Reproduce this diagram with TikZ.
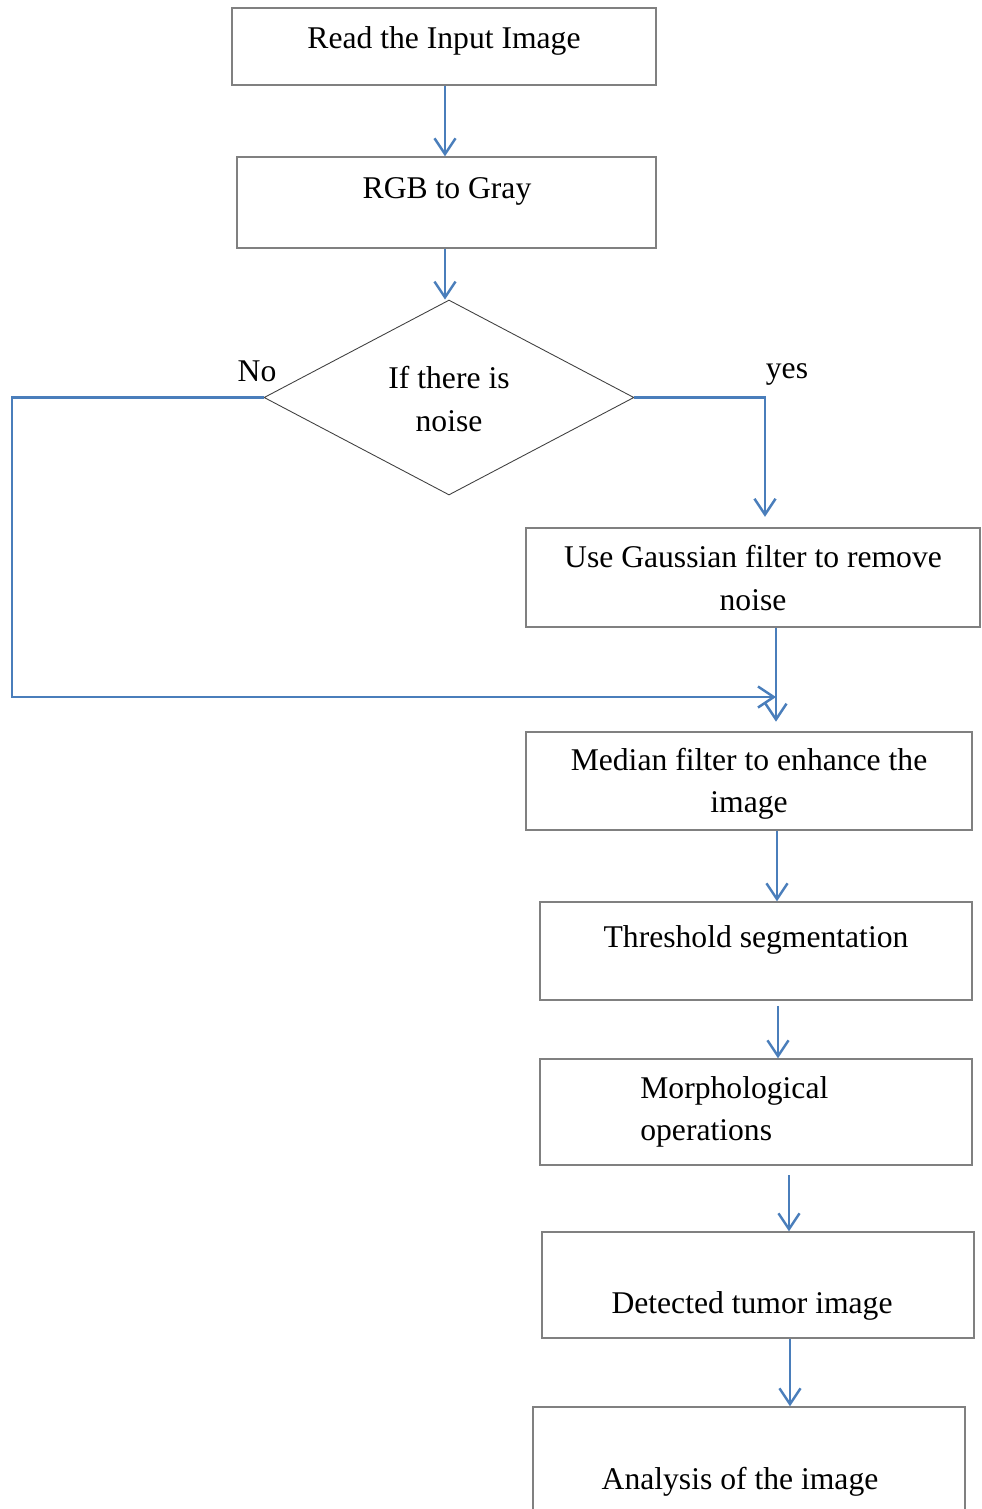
\documentclass[tikz,border=0pt]{standalone}
\usepackage{fontspec}
\setmainfont{Liberation Serif}
\usetikzlibrary{arrows.meta, shapes.geometric, positioning, calc}
\definecolor{flowblue}{RGB}{74,126,187}
\definecolor{boxgray}{RGB}{128,128,128}

\begin{document}
\begin{tikzpicture}[x=0.02cm, y=-0.02cm,
    box/.style={draw=boxgray, line width=0.8pt, inner sep=0pt},
    decision/.style={diamond, draw=black!75, line width=0.5pt, inner sep=0pt,
      minimum width=7.4cm, minimum height=3.9cm},
    lbl/.style={font=\fontsize{18}{24}\selectfont, align=center, inner sep=0pt},
    arr/.style={draw=flowblue, line width=1.4pt, -{Straight Barb[length=9pt, width=12pt]}}]
  \useasboundingbox (0,0) rectangle (982,1509);

  % boxes
  \node[box, minimum width=8.48cm, minimum height=1.54cm] (read) at (444,46.5) {};
  \node[box, minimum width=8.38cm, minimum height=1.82cm] (gray) at (446.5,202.5) {};
  \node[decision] (noise) at (449,397.5) {};
  \node[box, minimum width=9.08cm, minimum height=1.98cm] (gauss) at (753,577.5) {};
  \node[box, minimum width=8.92cm, minimum height=1.96cm] (median) at (749,781) {};
  \node[box, minimum width=8.64cm, minimum height=1.96cm] (thresh) at (756,951) {};
  \node[box, minimum width=8.64cm, minimum height=2.12cm] (morph) at (756,1112) {};
  \node[box, minimum width=8.64cm, minimum height=2.12cm] (tumor) at (758,1285) {};
  \node[box, minimum width=8.64cm, minimum height=3.06cm] (anal) at (749,1483.5) {};

  % texts
  \node[lbl] (readtxt) at (444,40.5) {Read the Input Image};
  \node[lbl] (graytxt) at (447,191.5) {RGB to Gray};
  \node[lbl] (noisetxt) at (449,399) {If there is\\noise};
  \node[lbl] (gausstxt) at (753,578) {Use Gaussian filter to remove\\noise};
  \node[lbl] (mediantxt) at (749,784) {Median filter to enhance the\\image};
  \node[lbl] (threshtxt) at (756,939.5) {Threshold segmentation};
  \node[lbl, align=left, anchor=west] (morphtxt) at (640,1111.5) {Morphological\\operations};
  \node[lbl] (tumortxt) at (752,1306) {Detected tumor image};
  \node[lbl] (analtxt) at (740,1482) {Analysis of the image};
  \node[lbl] (nolbl) at (257,371) {No};
  \node[lbl] (yeslbl) at (787,374) {yes};

  % turning points
  \coordinate (xa) at (445,0);
  \coordinate (yesx) at (765,397.5);
  \coordinate (nox) at (12,397.5);
  \coordinate (join) at (776,697);
  \coordinate (xb) at (777,0);
  \coordinate (xc) at (778,0);
  \coordinate (xd) at (789,0);
  \coordinate (xe) at (790,0);

  % connectors
  \draw[arr] (read.south -| xa) -- (gray.north -| xa);
  \draw[arr] (gray.south -| xa) -- (noise.north -| xa);
  \draw[arr, shorten >=6pt] (noise.east) -- (yesx) -- (gauss.north -| yesx);
  \draw[arr] (noise.west) -- (nox) |- (join);
  \draw[arr, shorten >=5.5pt] (gauss.south -| join) -- (median.north -| join);
  \draw[arr] (median.south -| xb) -- (thresh.north -| xb);
  \draw[arr, shorten <=3pt] (thresh.south -| xc) -- (morph.north -| xc);
  \draw[arr, shorten <=5.5pt] (morph.south -| xd) -- (tumor.north -| xd);
  \draw[arr] (tumor.south -| xe) -- (anal.north -| xe);
\end{tikzpicture}
\end{document}
